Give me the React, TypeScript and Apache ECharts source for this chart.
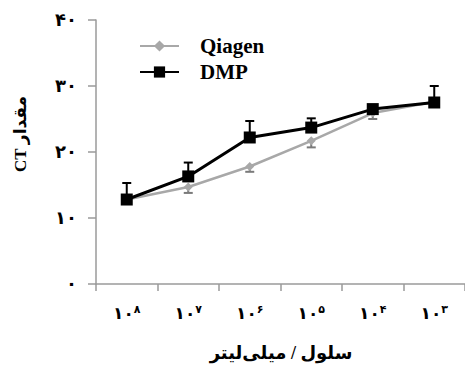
import React, { useEffect, useRef } from "react";
import * as echarts from "echarts";

const xCategories = ["۸", "۷", "۶", "۵", "۴", "۳"];
const yTickLabels = ["۰", "۱۰", "۲۰", "۳۰", "۴۰"];
const qiagenValues = [12.8, 14.7, 17.8, 21.7, 25.9, 27.6];
const qiagenErrDown = [0, 0.9, 0.8, 1.0, 0.9, 0];
const dmpValues = [12.8, 16.3, 22.2, 23.7, 26.5, 27.5];
const dmpErrUp = [2.5, 2.1, 2.5, 1.4, 0.6, 2.5];

const FONT = "'Liberation Serif', 'DejaVu Sans', serif";

function errorSeries(name: string, color: string, data: number[][], capAtLow: boolean, z: number) {
  return {
    type: "custom",
    name,
    z,
    silent: true,
    renderItem: (_p: any, api: any) => {
      const x = api.value(0);
      const lo = api.value(1);
      const hi = api.value(2);
      if (hi - lo <= 0) return { type: "group", children: [] };
      const pLo = api.coord([x, lo]);
      const pHi = api.coord([x, hi]);
      const cap = capAtLow ? pLo : pHi;
      const w = 9;
      return {
        type: "group",
        children: [
          { type: "line", shape: { x1: pLo[0], y1: pLo[1], x2: pHi[0], y2: pHi[1] }, style: { stroke: color, lineWidth: 2 } },
          { type: "line", shape: { x1: cap[0] - w / 2, y1: cap[1], x2: cap[0] + w / 2, y2: cap[1] }, style: { stroke: color, lineWidth: 2 } },
        ],
      };
    },
    data,
  };
}

export default function App() {
  const ref = useRef<HTMLDivElement>(null);
  useEffect(() => {
    if (!ref.current) return;
    const chart = echarts.init(ref.current, null, { renderer: "svg" });
    const qErr = qiagenValues.map((v, i) => [i, v - qiagenErrDown[i], v]);
    const dErr = dmpValues.map((v, i) => [i, v, v + dmpErrUp[i]]);
    chart.setOption({
      animation: false,
      backgroundColor: "#ffffff",
      grid: { left: 96, right: -3, top: 20, bottom: 81 },
      legend: {
        data: ["Qiagen", "DMP"],
        orient: "vertical",
        left: 139,
        top: 35,
        padding: 0,
        itemWidth: 39,
        itemHeight: 14,
        itemGap: 4,
        textStyle: { fontFamily: FONT, fontWeight: "bold", fontSize: 21, color: "#000", lineHeight: 22, padding: [0, 0, 0, 16] },
      },
      xAxis: {
        type: "category",
        data: xCategories,
        boundaryGap: true,
        axisLine: { lineStyle: { color: "#9a9a9a", width: 1.5 } },
        axisTick: { show: true, length: 7, inside: false, lineStyle: { color: "#9a9a9a", width: 1.5 } },
        axisLabel: {
          interval: 0,
          margin: 19,
          formatter: (v: string) => `{b|۱۰}{s|${v}}`,
          rich: {
            b: { fontFamily: FONT, fontWeight: "bold", fontSize: 17, color: "#000", lineHeight: 20 },
            s: { fontFamily: FONT, fontWeight: "bold", fontSize: 11, color: "#000", lineHeight: 11, verticalAlign: "top" },
          },
        },
        splitLine: { show: false },
      },
      yAxis: {
        type: "value",
        min: 0,
        max: 40,
        interval: 10,
        axisLine: { show: true, lineStyle: { color: "#9a9a9a", width: 1.5 } },
        axisTick: { show: true, length: 8, lineStyle: { color: "#9a9a9a", width: 1.5 } },
        axisLabel: {
          margin: 19,
          fontFamily: FONT,
          fontWeight: "bold",
          fontSize: 18,
          color: "#000",
          formatter: (v: number) => yTickLabels[Math.round(v / 10)],
        },
        splitLine: { show: false },
      },
      graphic: [
        {
          type: "text",
          x: 20,
          y: 134,
          rotation: Math.PI / 2,
          style: {
            text: "\u202Bمقدار CT\u202C",
            fontFamily: FONT,
            fontWeight: "bold",
            fontSize: 17,
            fill: "#000",
            textAlign: "center",
            textVerticalAlign: "middle",
          },
        },
        {
          type: "text",
          x: 281,
          y: 353,
          style: {
            text: "سلول / میلی‌لیتر",
            fontFamily: FONT,
            fontWeight: "bold",
            fontSize: 18,
            fill: "#000",
            textAlign: "center",
            textVerticalAlign: "middle",
          },
        },
      ],
      series: [
        {
          name: "Qiagen",
          type: "line",
          data: qiagenValues,
          z: 2,
          symbol: "diamond",
          symbolSize: 9,
          lineStyle: { color: "#a8a8a8", width: 2.5 },
          itemStyle: { color: "#a8a8a8" },
        },
        errorSeries("QiagenErr", "#7a7a7a", qErr, true, 1),
        errorSeries("DMPErr", "#000", dErr, false, 3),
        {
          name: "DMP",
          type: "line",
          data: dmpValues,
          z: 5,
          symbol: "rect",
          symbolSize: 12,
          lineStyle: { color: "#000", width: 3 },
          itemStyle: { color: "#000" },
        },
      ],
    });
    return () => chart.dispose();
  }, []);
  return <div ref={ref} style={{ position: "fixed", left: 0, top: 0, width: 465, height: 365 }} />;
}
